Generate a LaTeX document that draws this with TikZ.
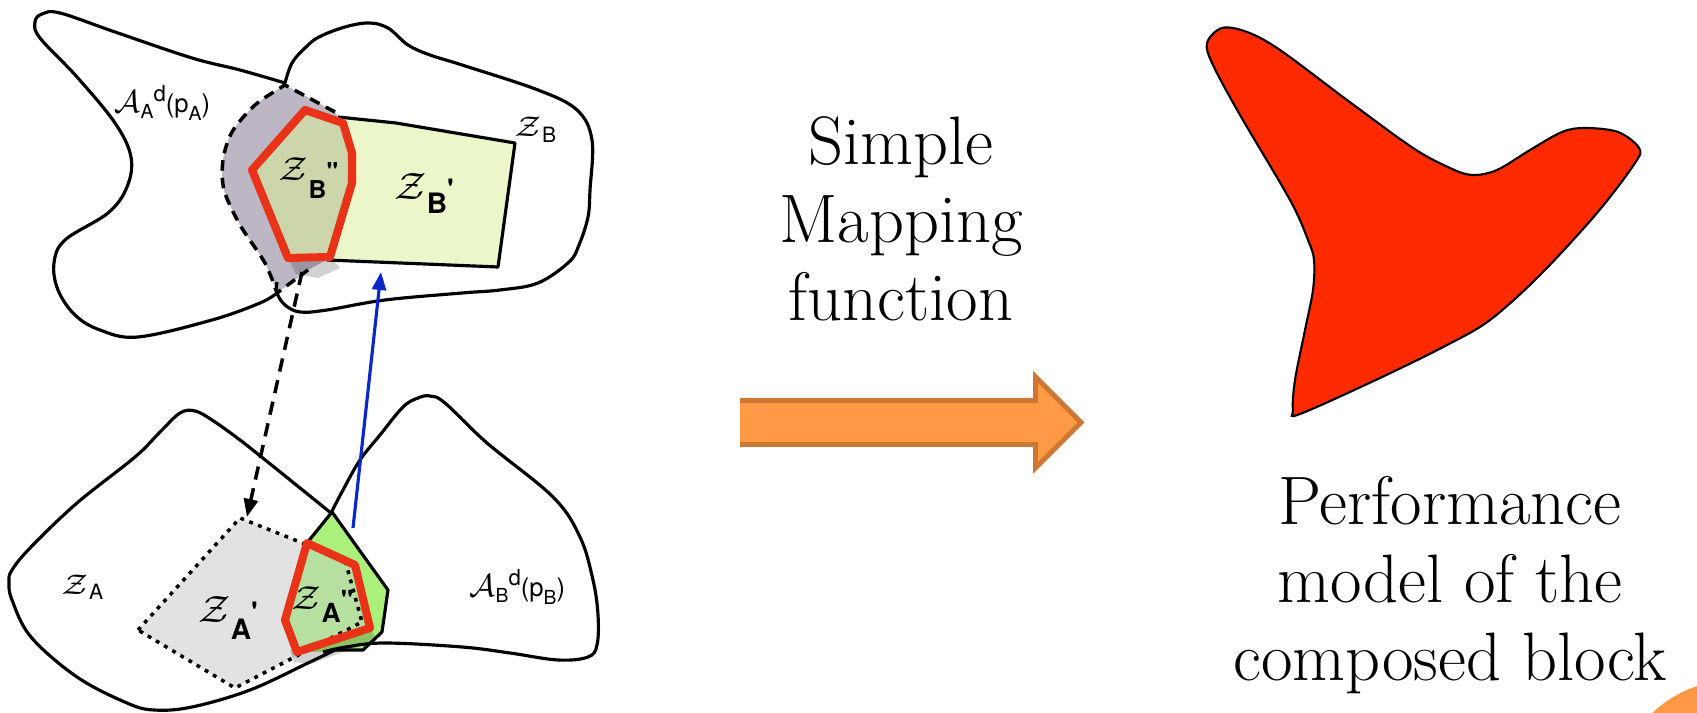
\documentclass[tikz,border=0pt]{standalone}
\usepackage{fontspec}
\usepackage{graphicx}
\setsansfont{TeX Gyre Heros}
\usetikzlibrary{arrows.meta}
\definecolor{zgray}{RGB}{189,182,197}
\definecolor{zlime}{RGB}{236,246,203}
\definecolor{zolive}{RGB}{205,214,170}
\definecolor{zred}{RGB}{233,51,25}
\definecolor{zgreen}{RGB}{170,240,122}
\definecolor{zlgreen}{RGB}{183,224,160}
\definecolor{zlgray}{RGB}{226,226,226}
\definecolor{zblue}{RGB}{10,40,200}
\definecolor{shapered}{RGB}{255,42,0}
\definecolor{zorange}{RGB}{255,153,69}
\definecolor{zorangedk}{RGB}{204,119,51}
\newcommand{\calZ}{\scalebox{1.35}{$\mathcal{Z}$}}
\newcommand{\Alabel}[1]{$\mathcal{A}$\raisebox{-1.6pt}{\fontsize{5.5}{6}\selectfont\textsf{#1}}\raisebox{3.3pt}{\fontsize{6.3}{7}\selectfont\textsf{d}}{\fontsize{7.3}{8}\selectfont\textsf{(p\raisebox{-2pt}{\fontsize{5.5}{6}\selectfont #1})}}}
\begin{document}
\begin{tikzpicture}[x=0.01cm,y=-0.01cm,
  blob/.style={draw=black,line width=0.9pt,line join=round},
  redpoly/.style={draw=zred,line width=2.3pt,line join=round},
  dashedge/.style={draw=black,line width=1pt,dash pattern=on 3pt off 2pt},
  dotedge/.style={draw=black,line width=1pt,dash pattern=on 1.1pt off 1.6pt},
  lbl/.style={inner sep=0pt,anchor=base west},
  shadowfill/.style={fill=black,opacity=0.18},
  bigtxt/.style={align=center,inner sep=0pt,font=\fontsize{19.5}{22.2}\selectfont},
  tipstyle/.style={-{Triangle[length=1.8mm,width=1.4mm]}}]
\useasboundingbox (0,0) rectangle (1697,713);

% ---------- upper figure ----------
\fill[zgray] (285,85) -- (335,112) -- (338,117) -- (330,258) -- (308,270) -- (292,282) -- (277,293)
  -- plot[smooth] coordinates {(277,293) (265,263) (240,225) (224,190) (223,160) (232,132) (255,105) (285,85)} -- cycle;
\fill[zlime] (338,117) -- (396,123) -- (515,143) -- (498,267) -- (327,260) -- cycle;
\fill[shadowfill] (290,262) -- (334,261) -- (340,268) -- (318,278) -- (296,274) -- cycle;
\fill[zolive] (305,110) -- (343,123) -- (352,153) -- (352,183) -- (330,257) -- (288,258) -- (252,170) -- cycle;
\draw[blob] plot[smooth,tension=0.6] coordinates {(285,83) (240,70) (192,58) (115,32) (60,13) (42,14) (35,22) (40,38) (77,77) (115,123) (131,157) (127,187) (108,213) (65,240) (54,263) (58,290) (75,315) (100,330) (138,337) (212,320) (260,303) (277,293)};
\draw[blob] plot[smooth,tension=0.6] coordinates {(285,83) (292,63) (305,48) (319,37) (345,27) (369,23) (388,28) (408,45) (430,55) (462,65) (538,90) (577,110) (592,140) (590,190) (588,217) (579,245) (569,262) (538,283) (500,290) (462,293) (385,300) (327,310) (300,312) (285,305) (277,293) (277,282)};
\draw[blob] (338,117) -- (396,123) -- (515,143) -- (498,267) -- (327,260);
\draw[dashedge] (335,112) -- (285,85) -- plot[smooth] coordinates {(285,85) (255,105) (232,132) (223,160) (224,190) (240,225) (265,263) (277,293)} -- (308,270);
\draw[redpoly] (305,110) -- (343,123) -- (352,153) -- (352,183) -- (330,257) -- (288,258) -- (252,170) -- cycle;

% ---------- lower figure ----------
\fill[zlgray] (240,518) -- (345,560) -- (362,622) -- (235,688) -- (138,630) -- cycle;
\fill[zgreen] (332,512) -- (388,590) -- (382,632) -- (363,650) -- (330,652) -- (297,652) -- (307,543) -- cycle;
\fill[shadowfill] (290,650) -- (372,630) -- (376,640) -- (310,664) -- (294,662) -- cycle;
\fill[zlgreen] (307,543) -- (355,565) -- (370,628) -- (297,652) -- (285,620) -- cycle;
\draw[dotedge] (138,630) -- (240,518) -- (345,560) -- (362,622) -- (235,688) -- cycle;
\draw[blob] plot[smooth,tension=0.6] coordinates {(331,513) (300,488) (269,463) (240,440) (212,420) (195,411) (180,413) (160,432) (135,457) (77,503) (31,547) (12,570) (9,582) (12,600) (31,637) (77,677) (127,703) (154,710) (192,707) (250,690) (308,663) (335,650)};
\draw[blob] plot[smooth,tension=0.6] coordinates {(331,513) (343,490) (360,460) (380,435) (403,407) (418,398) (430,396) (445,403) (487,443) (553,497) (580,537) (593,580) (598,615) (597,645) (588,657) (558,660) (510,653) (462,647) (385,643) (346,647) (323,652)};
\draw[blob] (307,543) -- (332,512) -- (388,590) -- (382,632) -- (363,650) -- (335,650);
\draw[redpoly] (307,543) -- (355,565) -- (370,628) -- (297,652) -- (285,620) -- cycle;

% ---------- connectors ----------
\coordinate (dashStart) at (302,272);
\coordinate (dashEnd) at (247,517);
\coordinate (blueStart) at (353,528);
\coordinate (blueEnd) at (381,272);
\draw[tipstyle,line width=1pt,dash pattern=on 3.8pt off 2.5pt] (dashStart) -- (dashEnd);
\draw[tipstyle,draw=zblue,fill=zblue,line width=0.9pt] (blueStart) -- (blueEnd);

% ---------- labels ----------
\node[lbl,font=\fontsize{9.5}{11}\selectfont] (lAA) at (114,113) {\Alabel{A}};
\node[lbl,font=\fontsize{9.5}{11}\selectfont] (lAB) at (469,597) {\Alabel{B}};
\node[lbl,font=\fontsize{6}{7}\selectfont] (lZB) at (514,137) {\calZ\raisebox{-1.7pt}{\textsf{B}}};
\node[lbl,font=\fontsize{6}{7}\selectfont] (lZA) at (61,595) {\calZ\raisebox{-1.4pt}{\textsf{A}}};
\node[lbl,font=\fontsize{7}{8}\selectfont] (lZBpp) at (278,181) {\calZ\raisebox{-5pt}{\textsf{\bfseries B}}\textsf{\bfseries\textquotedbl}};
\node[lbl,font=\fontsize{8}{9}\selectfont] (lZBp) at (394,200) {\calZ\raisebox{-3.7pt}{\textsf{\bfseries B}}\textsf{\bfseries\textquotesingle}};
\node[lbl,font=\fontsize{8}{9}\selectfont] (lZAp) at (198,623) {\calZ\raisebox{-4.8pt}{\textsf{\bfseries A}}\textsf{\bfseries\textquotesingle}};
\node[lbl,font=\fontsize{7.5}{9}\selectfont] (lZApp) at (291,610) {\calZ\raisebox{-3.5pt}{\textsf{\bfseries A}}\textsf{\bfseries\textquotedbl}};

% ---------- middle ----------
\node[bigtxt] (maptxt) at (901,219) {Simple\\Mapping\\function};
\fill[zorange] (740,398) -- (1033,398) -- (1033,372) -- (1084,422.5) -- (1033,473) -- (1033,447) -- (740,447) -- cycle;
\draw[zorangedk,line width=1.4pt,line join=miter] (740,400.5) -- (1035.5,400.5) -- (1035.5,377) -- (1081,422.5) -- (1035.5,468) -- (1035.5,444.5) -- (740,444.5);

% ---------- right ----------
\draw[fill=shapered,draw=black,line width=0.6pt] plot[smooth cycle,tension=0.55] coordinates {(1207,43) (1222,28) (1247,32) (1280,50) (1347,100) (1413,148) (1450,168) (1472,175) (1497,170) (1530,150) (1562,132) (1585,128) (1618,132) (1639,148) (1635,163) (1597,213) (1540,275) (1490,320) (1447,345) (1380,378) (1300,414) (1293,410) (1295,380) (1305,330) (1313,290) (1314,260) (1308,240) (1290,200) (1240,115) (1213,65)};
\node[bigtxt] (perftxt) at (1450,585) {Performance\\model of the\\composed block};

\begin{scope}
\clip (0,0) rectangle (1697,713);
\fill[zorange] (1735,800) circle[radius=1.2cm];
\end{scope}
\end{tikzpicture}
\end{document}
